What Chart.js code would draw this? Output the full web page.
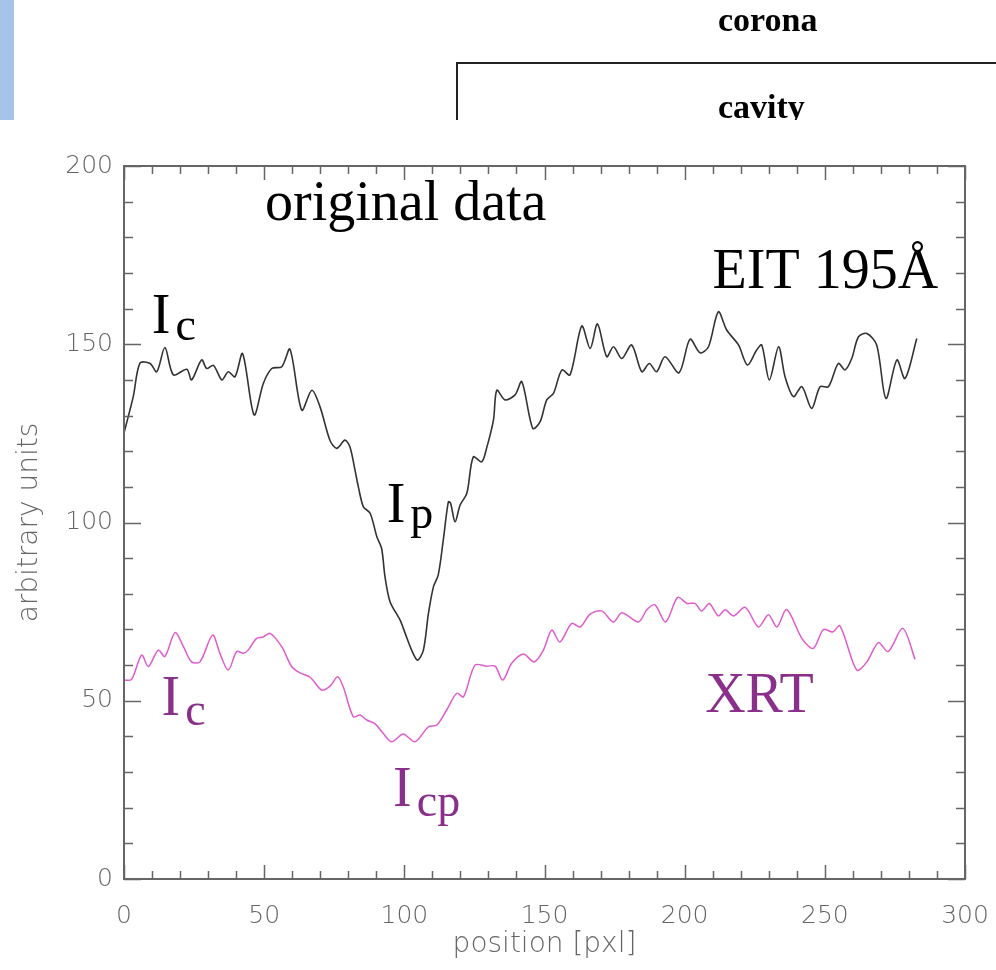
<!DOCTYPE html>
<html>
<head>
<meta charset="utf-8">
<script src="https://cdn.jsdelivr.net/npm/chart.js@4/dist/chart.umd.min.js"></script>
<style>
  html, body { margin: 0; padding: 0; background: #fff; }
  #page { position: relative; width: 996px; height: 970px; overflow: hidden; background: #fff; }
  #chart { position: absolute; left: 0; top: 0; }
  #header { position: absolute; left: 0; top: 0; width: 996px; height: 120px; overflow: hidden; }
  #bar { position: absolute; left: 0; top: 0; width: 14px; height: 120px; background: #a6c4ea; }
  #bracket { position: absolute; left: 456px; top: 62px; width: 560px; height: 80px;
             border-top: 2px solid #222; border-left: 2px solid #222; }
  .hdr { position: absolute; font-family: "Liberation Serif", "Times New Roman", serif;
         font-weight: bold; font-size: 34px; line-height: 34px; color: #000; white-space: nowrap; }
</style>
</head>
<body>
<div id="page">
  <canvas id="chart" width="996" height="970"></canvas>
  <div id="header">
    <div id="bar"></div>
    <div id="bracket"></div>
    <div class="hdr" style="left:718px; top:3px;">corona</div>
    <div class="hdr" style="left:718px; top:90px;">cavity</div>
  </div>
</div>
<script>
// EIT 195 Å intensity profile across the cavity
const eitPosition = [0, 3.3, 5.7, 9.3, 11.7, 14.6, 17.6, 22.4, 24.1, 27.7, 29.5, 31.9, 34.9, 37.2, 39.6,
  42.3, 46.4, 49.7, 52.7, 56.3, 59.2, 63.4, 67, 69.9, 73.5, 75.9, 78.8, 80.6, 82.4, 83.6, 85.4, 87.8,
  90.2, 91.9, 93.1, 94.9, 98.5, 100.3, 102.6, 104.7, 106.8, 108.6, 110.4, 112.1, 113.9, 115.7, 116.5,
  118.1, 119.9, 122.3, 124.6, 127.6, 129.4, 131.8, 133, 135.9, 139.5, 141.9, 145.8, 148.4, 150.8,
  153.2, 156.2, 159.1, 163.3, 166.3, 168.9, 172.2, 174.6, 177.6, 181.1, 184.7, 187.4, 190, 193, 198,
  201.9, 205.5, 208.5, 212, 215, 219.2, 222.4, 225.7, 227.5, 230.2, 233.5, 235.8, 238.8, 241.8, 245.3,
  248.3, 251.3, 254.8, 257.2, 259.6, 262, 265, 268.5, 271.8, 275.7, 278.6, 282.8];
const eitIntensity = [125.1, 135.3, 144.7, 144.6, 142.3, 149.1, 141.4, 143, 140, 145.6, 143.2, 144.1, 140,
  142.3, 140.9, 147.4, 130.2, 139, 143.2, 143.7, 148.6, 131.5, 137.1, 132.5, 123, 120.8, 123.1, 121.2,
  114.7, 110, 104.4, 102.6, 96, 92.7, 84.8, 77.8, 72.6, 68.9, 64.2, 61.4, 64.2, 74.5, 82, 85.3, 95.1,
  105.8, 105.4, 100.2, 104.9, 108.2, 118.4, 117, 121, 128.8, 137.1, 134.4, 135.8, 139.5, 126.4, 128.2,
  134.4, 136.2, 142.8, 141.4, 155.1, 148.8, 155.7, 146.5, 149.3, 146, 149.8, 142.3, 144.6, 142.3, 146.5,
  142, 151.4, 147.6, 149.3, 159.1, 154, 149.8, 144.2, 148.4, 149.8, 140, 149.3, 140.9, 135.3, 138.1,
  132, 138.1, 138.1, 144.6, 142.8, 146, 152.1, 153, 149.8, 134.8, 145.6, 140.4, 151.6];

// XRT intensity profile along the same cut
const xrtPosition = [0, 2.7, 6.3, 8.7, 12.2, 14.6, 18.2, 21.2, 24.1, 27.1, 31.6, 34.2, 37.2, 40.2, 42.6,
  44.3, 47.3, 49.7, 52.1, 56.3, 59.8, 62.8, 66.4, 70.5, 73.5, 76.2, 78.2, 81.8, 84.2, 86.6, 89.5, 92.5,
  95.5, 99.6, 103.8, 108.6, 111.6, 115.1, 118.7, 121.1, 125.2, 129.4, 132.4, 135.1, 138.3, 142.5, 146.3,
  149.6, 152.6, 155.5, 159.7, 162.7, 166.3, 170.4, 174.6, 177.6, 183.5, 186.5, 189.4, 193.2, 197.5,
  200.8, 203.7, 206.1, 208.8, 212, 214.4, 217.4, 221.6, 226.3, 229.9, 232.9, 236.4, 241.8, 245.9, 249.5,
  252.8, 255.4, 261.4, 265, 269.1, 272.6, 277.8, 282.2];
const xrtIntensity = [55.8, 56, 62.8, 59.6, 64.2, 62.4, 69.1, 65.2, 60.9, 60.9, 68.4, 63.3, 58.6, 63.8,
  63.3, 64.2, 67.5, 67.9, 68.9, 65.1, 59.6, 57.8, 56.6, 53, 54.1, 56.7, 53.9, 45.5, 46, 44.6, 43.6, 40.8,
  38.5, 40.7, 38.5, 42.7, 43.2, 47.4, 52.1, 51.1, 60, 59.7, 59.7, 55.8, 60.5, 63.1, 60.9, 64.2, 69.8, 66.5,
  71.7, 70.7, 74.3, 75.2, 72.1, 74.7, 72.1, 75.5, 76.9, 72.1, 79, 77.3, 77.3, 75.2, 77.3, 73.8, 75.5, 73.8,
  76.2, 70.7, 74.1, 70.7, 75.6, 67.5, 64.7, 70, 69.3, 71, 58.6, 60.9, 66.3, 63.8, 70.3, 61.6];

// axis ranges and tick spacing
const xRange = [0, 300];
const yRange = [0, 200];
const xMajorStep = 50, xMinorStep = 10;
const yMajorStep = 50, yMinorStep = 10;

const toPoints = (xs, ys) => xs.map((x, i) => ({ x: x, y: ys[i] }));

const SERIF = '"Liberation Serif", "Times New Roman", serif';
const AXIS_FONT = '"DejaVu Sans", "Liberation Sans", sans-serif';
const PURPLE = '#8a2f8a';
const tickFont = { family: AXIS_FONT, size: 25, weight: '200' };
const titleFont = { family: AXIS_FONT, size: 28, weight: '200' };

// in-plot annotations, anchored in data coordinates
const annotations = [
  { main: 'original data', x: 50.3, y: 184.9, size: 56, color: '#000' },
  { main: 'EIT 195Å', x: 290.4, y: 165.9, size: 56, color: '#000', align: 'right' },
  { main: 'I', sub: 'c', x: 9.9, y: 153.2, size: 56, subSize: 46, subDrop: 7, color: '#000' },
  { main: 'I', sub: 'p', x: 93.7, y: 100.2, size: 56, subSize: 46, subDrop: 6, color: '#000' },
  { main: 'I', sub: 'c', x: 13.4, y: 46, size: 56, subSize: 46, subDrop: 10, color: PURPLE },
  { main: 'I', sub: 'cp', x: 96, y: 20.5, size: 56, subSize: 46, subDrop: 10, color: PURPLE },
  { main: 'XRT', x: 207.3, y: 46.9, size: 56, color: PURPLE }
];

// IDL-style frame: box on all four sides with inward major/minor ticks
const framePlugin = {
  id: 'frame',
  afterDatasetsDraw(chart) {
    const { ctx, chartArea: a, scales: { x, y } } = chart;
    ctx.save();
    ctx.strokeStyle = '#666';
    ctx.lineWidth = 2;
    ctx.strokeRect(a.left, a.top, a.right - a.left, a.bottom - a.top);
    ctx.lineWidth = 1.5;
    ctx.beginPath();
    for (let v = xRange[0]; v <= xRange[1]; v += xMinorStep) {
      const px = Math.round(x.getPixelForValue(v)) + 0.5;
      const len = (v % xMajorStep === 0) ? 14 : 8;
      ctx.moveTo(px, a.bottom); ctx.lineTo(px, a.bottom - len);
      ctx.moveTo(px, a.top); ctx.lineTo(px, a.top + len);
    }
    for (let v = yRange[0]; v <= yRange[1]; v += yMinorStep) {
      const py = Math.round(y.getPixelForValue(v)) + 0.5;
      const len = (v % yMajorStep === 0) ? 17 : 9;
      ctx.moveTo(a.left, py); ctx.lineTo(a.left + len, py);
      ctx.moveTo(a.right, py); ctx.lineTo(a.right - len, py);
    }
    ctx.stroke();
    ctx.restore();
  }
};

const labelPlugin = {
  id: 'labels',
  afterDatasetsDraw(chart) {
    const { ctx, scales: { x, y } } = chart;
    ctx.save();
    ctx.textBaseline = 'alphabetic';
    ctx.textAlign = 'left';
    annotations.forEach(a => {
      const px = x.getPixelForValue(a.x);
      const py = y.getPixelForValue(a.y);
      ctx.fillStyle = a.color;
      ctx.font = a.size + 'px ' + SERIF;
      const w = ctx.measureText(a.main).width;
      const left = a.align === 'right' ? px - w : px;
      ctx.fillText(a.main, left, py);
      if (a.sub) {
        ctx.font = a.subSize + 'px ' + SERIF;
        ctx.fillText(a.sub, left + w + 5, py + a.subDrop);
      }
    });
    ctx.restore();
  }
};

new Chart(document.getElementById('chart'), {
  type: 'scatter',
  data: {
    datasets: [
      {
        label: 'EIT 195Å',
        data: toPoints(eitPosition, eitIntensity),
        showLine: true,
        borderColor: '#333',
        borderWidth: 1.6,
        pointRadius: 0,
        tension: 0.3
      },
      {
        label: 'XRT',
        data: toPoints(xrtPosition, xrtIntensity),
        showLine: true,
        borderColor: '#e05ccc',
        borderWidth: 1.5,
        pointRadius: 0,
        tension: 0.3
      }
    ]
  },
  options: {
    responsive: false,
    animation: false,
    devicePixelRatio: 1,
    layout: { padding: { top: 166, right: 31, left: 0, bottom: 0 } },
    plugins: { legend: { display: false }, tooltip: { enabled: false } },
    scales: {
      x: {
        type: 'linear',
        min: xRange[0], max: xRange[1],
        grid: { display: false, drawTicks: false },
        border: { display: false },
        ticks: { stepSize: xMajorStep, padding: 22, color: '#666', maxRotation: 0, font: tickFont },
        title: { display: true, text: 'position [pxl]', color: '#666', font: titleFont,
                 padding: { top: 0, bottom: 8 } },
        afterFit(scale) { scale.height = 91; scale.paddingLeft = 0; scale.paddingRight = 0; }
      },
      y: {
        type: 'linear',
        min: yRange[0], max: yRange[1],
        grid: { display: false, drawTicks: false },
        border: { display: false },
        ticks: { stepSize: yMajorStep, padding: 11, color: '#666', font: tickFont },
        title: { display: true, text: 'arbitrary units', color: '#666', font: titleFont,
                 padding: { top: 13, bottom: 0 } },
        afterFit(scale) { scale.width = 124; scale.paddingTop = 0; scale.paddingBottom = 0; }
      }
    }
  },
  plugins: [framePlugin, labelPlugin]
});
</script>
</body>
</html>
